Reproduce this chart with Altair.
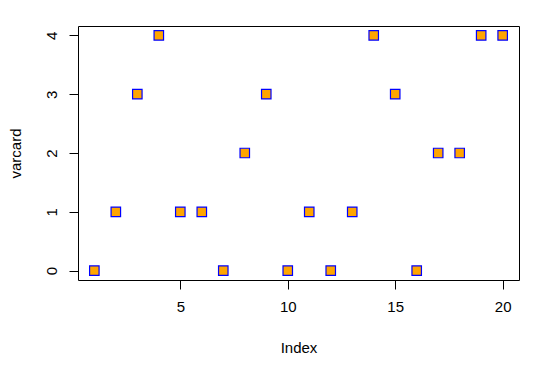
import altair as alt
import pandas as pd

index = list(range(1, 21))
varcard = [0, 1, 3, 4, 1, 1, 0, 2, 3, 0, 1, 0, 1, 4, 3, 0, 2, 2, 4, 4]
x_ticks = [5, 10, 15, 20]
y_ticks = [0, 1, 2, 3, 4]

df = pd.DataFrame({"Index": index, "varcard": varcard})

FONT = "Liberation Sans"

chart = alt.Chart(df).mark_square(
    size=90, fill="#FFA500", stroke="#0000FF", strokeWidth=1.2, opacity=1
).encode(
    x=alt.X("Index:Q",
            scale=alt.Scale(domain=[0.24, 20.76], nice=False, zero=False),
            axis=alt.Axis(values=x_ticks, title="Index", titlePadding=26)),
    y=alt.Y("varcard:Q",
            scale=alt.Scale(domain=[-0.16, 4.16], nice=False, zero=False),
            axis=alt.Axis(values=y_ticks, title="varcard", labelAngle=-90,
                          labelAlign="center", labelBaseline="bottom",
                          titlePadding=21)),
).properties(
    width=441, height=254,
    autosize=alt.AutoSizeParams(type="none"),
    padding={"left": 70, "top": 18, "right": 20, "bottom": 76},
).configure_view(
    stroke="black", strokeWidth=1
).configure_axis(
    domain=False, grid=False, ticks=True, tickColor="black", tickSize=9,
    tickWidth=1, labelFont=FONT, labelFontSize=15, labelColor="black",
    labelPadding=10, titleFont=FONT, titleFontSize=15, titleFontWeight="normal",
    titleColor="black", labelFlush=False, labelOverlap=False
)

chart.save("out.html", embed_options={"renderer": "svg", "actions": False})
